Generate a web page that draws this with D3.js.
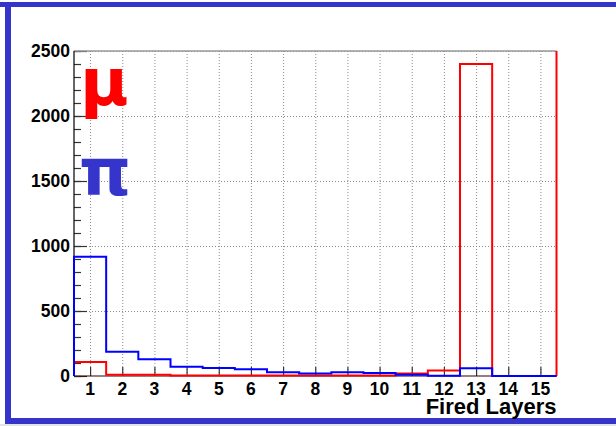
<!DOCTYPE html>
<html>
<head>
<meta charset="utf-8">
<script src="https://cdn.jsdelivr.net/npm/d3@7"></script>
<style>
  html, body { margin: 0; padding: 0; background: #ffffff; }
  svg { display: block; }
  text { font-family: "Liberation Sans", Arial, sans-serif; font-weight: bold; }
  text.greek { font-family: "DejaVu Sans", sans-serif; }
</style>
</head>
<body>
<svg id="chart" width="616" height="426"></svg>
<script>
// Number of fired layers per event (bins 1..15)
const layers = [1, 2, 3, 4, 5, 6, 7, 8, 9, 10, 11, 12, 13, 14, 15];
const muCounts = [107, 10, 10, 3, 3, 3, 3, 3, 3, 3, 20, 43, 2400, 0, 0];
const piCounts = [918, 187, 128, 72, 62, 52, 28, 20, 28, 23, 9, 2, 59, 0, 0];
const yTicks = [0, 500, 1000, 1500, 2000, 2500];
const xTitle = "Fired Layers";

const svg = d3.select("#chart");
const W = 616, H = 426;
const frameBlue = "#3535cc";

// slide backdrop and border
svg.append("rect").attr("x", 0).attr("y", 424).attr("width", W).attr("height", 2).attr("fill", "#e4e4e8");
svg.append("rect").attr("x", 0).attr("y", 2).attr("width", W).attr("height", 5).attr("fill", frameBlue);
svg.append("rect").attr("x", 5).attr("y", 2).attr("width", 6).attr("height", 422).attr("fill", frameBlue);
svg.append("rect").attr("x", 5).attr("y", 418).attr("width", W - 5).attr("height", 6).attr("fill", frameBlue);

const pLeft = 74, pRight = 556.5, pTop = 51, pBottom = 376;
const x = d3.scaleLinear().domain([0.5, 15.5]).range([pLeft, pRight]);
const y = d3.scaleLinear().domain([0, 2500]).range([pBottom, pTop]);

// grid
const grid = svg.append("g").attr("stroke", "#8a8a8a").attr("stroke-width", 1).attr("stroke-dasharray", "1,2");
grid.selectAll("line.v").data(layers).enter().append("line")
  .attr("x1", d => x(d) + 0.5).attr("x2", d => x(d) + 0.5)
  .attr("y1", pTop).attr("y2", pBottom);
grid.selectAll("line.h").data(yTicks.filter(d => d > 0)).enter().append("line")
  .attr("x1", pLeft).attr("x2", pRight)
  .attr("y1", d => y(d) + 0.5).attr("y2", d => y(d) + 0.5);

// axes: ticks point into the frame
const yAxis = d3.axisRight(y).tickValues(yTicks).tickSize(13).tickFormat("");
const yMinor = d3.axisRight(y).tickValues(d3.range(0, 2501, 100)).tickSize(7).tickFormat("");
const gy = svg.append("g").attr("transform", `translate(${pLeft},0)`);
gy.call(yMinor);
gy.append("g").call(yAxis);
gy.selectAll(".domain").remove();
gy.selectAll("line").attr("stroke", "#333").attr("stroke-width", 1.2);

const xAxis = d3.axisTop(x).tickValues(layers).tickSize(9).tickFormat("");
const gx = svg.append("g").attr("transform", `translate(0,${pBottom})`).call(xAxis);
gx.select(".domain").remove();
gx.selectAll("line").attr("stroke", "#333").attr("stroke-width", 1.2);

// tick labels
svg.append("g").selectAll("text").data(yTicks).enter().append("text")
  .attr("x", 70).attr("y", d => y(d) + 6)
  .attr("text-anchor", "end").attr("font-size", 17.5).attr("fill", "#000")
  .text(d => d);
svg.append("g").selectAll("text").data(layers).enter().append("text")
  .attr("x", d => x(d)).attr("y", 395)
  .attr("text-anchor", "middle").attr("font-size", 17.5).attr("fill", "#000")
  .text(d => d);
svg.append("text").attr("x", pRight).attr("y", 414)
  .attr("text-anchor", "end").attr("font-size", 22).attr("fill", "#000")
  .text(xTitle);

// step outline of a histogram
function stepPath(counts) {
  const pts = [[x(0.5), y(0)]];
  counts.forEach((c, i) => {
    pts.push([x(layers[i] - 0.5), y(c)]);
    pts.push([x(layers[i] + 0.5), y(c)]);
  });
  pts.push([x(15.5), y(0)]);
  return d3.line()(pts);
}

// frame
svg.append("line").attr("x1", pLeft).attr("x2", pRight).attr("y1", pTop).attr("y2", pTop)
  .attr("stroke", "#999").attr("stroke-width", 1.5);
svg.append("line").attr("x1", pLeft).attr("x2", pLeft).attr("y1", pTop).attr("y2", pBottom)
  .attr("stroke", "#000").attr("stroke-width", 1.2);
svg.append("line").attr("x1", pLeft).attr("x2", pRight).attr("y1", pBottom).attr("y2", pBottom)
  .attr("stroke", "#300").attr("stroke-width", 1.2);

svg.append("path").attr("d", stepPath(muCounts))
  .attr("fill", "none").attr("stroke", "#ff0000").attr("stroke-width", 2);
svg.append("line").attr("x1", pRight).attr("x2", pRight).attr("y1", pTop).attr("y2", pBottom)
  .attr("stroke", "#ff0000").attr("stroke-width", 2);
svg.append("path").attr("d", stepPath(piCounts))
  .attr("fill", "none").attr("stroke", "#0000ff").attr("stroke-width", 2);

// particle labels
svg.append("text").attr("class", "greek").attr("x", 80).attr("y", 105).attr("font-size", 66).attr("fill", "#ff0000").text("μ");
svg.append("text").attr("class", "greek").attr("x", 79).attr("y", 195).attr("font-size", 66).attr("fill", "#3535cc").text("π");
</script>
</body>
</html>
